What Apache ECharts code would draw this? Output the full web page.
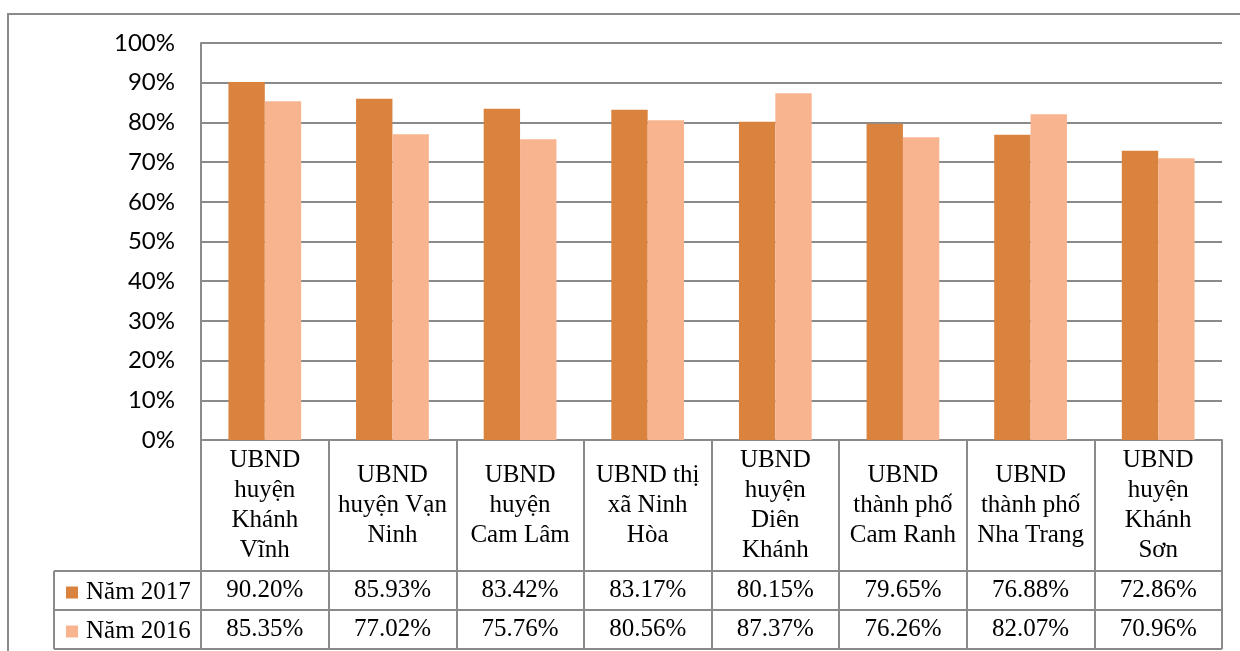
<!DOCTYPE html>
<html>
<head>
<meta charset="utf-8">
<script src="https://cdn.jsdelivr.net/npm/echarts@6/dist/echarts.min.js"></script>
<style>
  html, body { margin: 0; padding: 0; background: #fff; }
  #chart { width: 1240px; height: 651px; }
</style>
</head>
<body>
<div id="chart"></div>
<script>
// dữ liệu: tên đơn vị (xuống dòng như bảng gốc) và tỉ lệ theo năm
const units = [
  'UBND\nhuyện\nKhánh\nVĩnh',
  'UBND\nhuyện Vạn\nNinh',
  'UBND\nhuyện\nCam Lâm',
  'UBND thị\nxã Ninh\nHòa',
  'UBND\nhuyện\nDiên\nKhánh',
  'UBND\nthành phố\nCam Ranh',
  'UBND\nthành phố\nNha Trang',
  'UBND\nhuyện\nKhánh\nSơn'
]
const year2017 = [90.20, 85.93, 83.42, 83.17, 80.15, 79.65, 76.88, 72.86]
const year2016 = [85.35, 77.02, 75.76, 80.56, 87.37, 76.26, 82.07, 70.96]
const seriesNames = ['Năm 2017', 'Năm 2016']

const colors = ['#D9833F', '#F7B48F']
const lineColor = '#8a8a8a'
const serif = '"Liberation Serif", "Times New Roman", serif'

// khung lưới
const G = { left: 201, right: 18, top: 43, bottom: 211 }
const axisY = 651 - G.bottom       // 440
const rightX = 1240 - G.right      // 1222
const rowTops = [571, 610, 649]

const fmt = v => v.toFixed(2) + '%'

const chart = echarts.init(document.getElementById('chart'))

// trục phụ chỉ dùng để in hàng giá trị của bảng
function valueAxis(values, offset) {
  return {
    type: 'category',
    gridIndex: 0,
    position: 'bottom',
    offset: offset,
    data: values.map(fmt),
    axisLine: { show: false },
    axisTick: { show: false },
    axisLabel: {
      interval: 0, margin: 0, verticalAlign: 'middle',
      fontFamily: serif, fontSize: 25, color: '#000'
    }
  }
}

chart.setOption({
  animation: false,
  grid: G,
  legend: {
    orient: 'vertical',
    left: 61,
    top: 575,
    icon: 'rect',
    itemWidth: 12,
    itemHeight: 12,
    itemGap: 14,
    selectedMode: false,
    textStyle: { fontFamily: serif, fontSize: 25, lineHeight: 25, color: '#000', padding: [0, 0, 0, 3] },
    data: seriesNames
  },
  xAxis: [
    {
      type: 'category',
      data: units,
      axisLine: { lineStyle: { color: lineColor, width: 2 } },
      axisTick: { show: true, interval: 0, length: rowTops[2] - axisY, lineStyle: { color: lineColor, width: 2 } },
      axisLabel: {
        interval: 0, margin: 65, verticalAlign: 'middle',
        fontFamily: serif, fontSize: 25, lineHeight: 30, color: '#000', align: 'center'
      }
    },
    valueAxis(year2017, 150),
    valueAxis(year2016, 189)
  ],
  yAxis: {
    type: 'value',
    min: 0,
    max: 100,
    interval: 10,
    axisLine: { show: true, lineStyle: { color: lineColor, width: 2 } },
    axisTick: { show: false },
    splitLine: { lineStyle: { color: lineColor, width: 2 } },
    axisLabel: {
      margin: 26,
      formatter: v => v + '%',
      fontFamily: 'Lato, "Open Sans", sans-serif',
      fontSize: 24,
      color: '#000'
    }
  },
  series: [
    { name: seriesNames[0], type: 'bar', data: year2017, barGap: '0%', barCategoryGap: '43%', itemStyle: { color: colors[0] } },
    { name: seriesNames[1], type: 'bar', data: year2016, barGap: '0%', barCategoryGap: '43%', itemStyle: { color: colors[1] } }
  ],
  graphic: [
    // khung ngoài của biểu đồ
    { type: 'rect', shape: { x: 8, y: 14, width: 1400, height: 800 }, style: { fill: 'none', stroke: lineColor, lineWidth: 2 }, silent: true },
    // các đường ngang của bảng dữ liệu
    ...rowTops.map(y => ({
      type: 'line', shape: { x1: 54, y1: y, x2: rightX, y2: y },
      style: { stroke: lineColor, lineWidth: 2 }, silent: true
    })),
    { type: 'line', shape: { x1: 54, y1: rowTops[0], x2: 54, y2: rowTops[2] }, style: { stroke: lineColor, lineWidth: 2 }, silent: true }
  ]
})
</script>
</body>
</html>
